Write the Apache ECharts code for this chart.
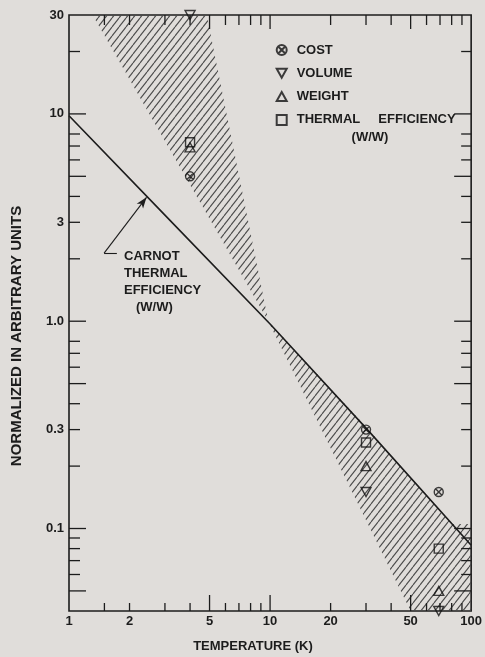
<!DOCTYPE html>
<html>
<head>
<meta charset="utf-8">
<title>Normalized cost, volume, weight and efficiency vs temperature</title>
<script src="https://cdn.jsdelivr.net/npm/echarts@6/dist/echarts.min.js"></script>
<style>
  html, body { margin: 0; padding: 0; background: #e0ddda; }
  #chart { width: 485px; height: 657px; }
</style>
</head>
<body>
<div id="chart"></div>
<script>
// Axis ranges (log-log)
const X_MIN = 1, X_MAX = 100;
const Y_MIN = 0.04, Y_MAX = 30;

// Tick labels
const xLabelValues = [1, 2, 5, 10, 20, 50, 100];
const yLabelValues = [0.1, 0.3, 1, 3, 10, 30];

// Tick marks
const xTickMajor = [5, 10, 50];
const xTickMinor = [1.5, 2, 3, 4, 6, 7, 8, 9, 20, 30, 40, 60, 70, 80, 90];
const yTickMajor = [0.05, 0.1, 0.5, 1, 5, 10];
const yTickMinor = [0.06, 0.07, 0.08, 0.09, 0.2, 0.3, 0.4, 0.6, 0.7, 0.8, 2, 3, 4, 6, 7, 8, 20];

// Carnot thermal efficiency (W/W), normalized
const carnotT = [1, 3, 10, 30, 100];
const carnotV = [9.8, 3.25, 0.97, 0.305, 0.083];

// Measured points
const costT = [4, 30, 69];
const costV = [5.0, 0.30, 0.15];
const volumeT = [4, 30, 69];
const volumeV = [30, 0.15, 0.04];
const weightT = [4, 30, 69];
const weightV = [6.9, 0.20, 0.05];
const thermalT = [4, 30, 69];
const thermalV = [7.3, 0.26, 0.08];

// Shaded scatter band (two wedges meeting on the Carnot curve)
const upperBandT = [1.31, 4.84, 9.8];
const upperBandV = [30, 30, 1.0];
const lowerBandT = [9.8, 30, 80, 100, 100, 50];
const lowerBandV = [1.0, 0.31, 0.105, 0.105, 0.04, 0.04];

// Carnot annotation leader
const leaderStart = [1.495, 2.13];
const leaderStub = [1.73, 2.13];
const leaderTip = [2.43, 3.96];

const INK = '#1c1c1c';
const FONT = '"Liberation Sans", Arial, Helvetica, sans-serif';

const zip = (a, b) => a.map((v, i) => [v, b[i]]);

// Diagonal hatch pattern
function makeHatch() {
  const w = 7, h = 9;
  const c = document.createElement('canvas');
  c.width = w; c.height = h;
  const g = c.getContext('2d');
  g.strokeStyle = '#4a4a4a';
  g.lineWidth = 1.1;
  for (let k = -1; k <= 1; k++) {
    g.beginPath();
    g.moveTo(k * w, h);
    g.lineTo(k * w + w, 0);
    g.stroke();
  }
  return c;
}
const hatchPattern = { image: makeHatch(), repeat: 'repeat' };

const bands = [zip(upperBandT, upperBandV), zip(lowerBandT, lowerBandV)];

const chart = echarts.init(document.getElementById('chart'), null, { renderer: 'canvas' });

const tickStyle = { stroke: INK, lineWidth: 1.3 };

const xTickData = xTickMajor.map(v => [v, Y_MIN, 1]).concat(xTickMinor.map(v => [v, Y_MIN, 0]));
const yTickData = yTickMajor.map(v => [X_MIN, v, 1]).concat(yTickMinor.map(v => [X_MIN, v, 0]));

const scatterBase = {
  type: 'scatter',
  clip: false,
  z: 5,
  itemStyle: { color: 'rgba(0,0,0,0)', borderColor: '#111', borderWidth: 1.4 },
  emphasis: { disabled: true }
};

const option = {
  backgroundColor: '#e0ddda',
  animation: false,
  textStyle: { fontFamily: FONT },
  grid: {
    left: 69, right: 4, top: 15, bottom: 46,
    show: true, borderColor: INK, borderWidth: 1.6, backgroundColor: 'transparent'
  },
  legend: {
    orient: 'vertical',
    left: 275.7, top: 43,
    padding: 0,
    itemWidth: 10, itemHeight: 10,
    itemGap: 9.3,
    selectedMode: false,
    textStyle: { fontSize: 13, fontWeight: 'bold', color: INK, fontFamily: FONT, lineHeight: 14, padding: [0, 0, 0, 5] },
    data: ['COST', 'VOLUME', 'WEIGHT', 'THERMAL     EFFICIENCY']
  },
  xAxis: {
    type: 'log', logBase: 10, min: X_MIN, max: X_MAX,
    axisLine: { show: false },
    axisTick: { show: false },
    splitLine: { show: false },
    axisLabel: {
      customValues: xLabelValues,
      margin: 4,
      fontSize: 13, fontWeight: 'bold', color: INK, fontFamily: FONT,
      formatter: v => String(v)
    }
  },
  yAxis: {
    type: 'log', logBase: 10, min: Y_MIN, max: Y_MAX,
    axisLine: { show: false },
    axisTick: { show: false },
    splitLine: { show: false },
    axisLabel: {
      customValues: yLabelValues,
      margin: 5,
      fontSize: 13, fontWeight: 'bold', color: INK, fontFamily: FONT,
      formatter: v => (Math.abs(v - 1) < 1e-9 ? '1.0' : String(+v.toPrecision(3)))
    }
  },
  graphic: [
    { type: 'text', x: 124, y: 256, style: { text: 'CARNOT', font: 'bold 13px ' + FONT, fill: INK, align: 'left', verticalAlign: 'middle' } },
    { type: 'text', x: 124, y: 273, style: { text: 'THERMAL', font: 'bold 13px ' + FONT, fill: INK, align: 'left', verticalAlign: 'middle' } },
    { type: 'text', x: 124, y: 290, style: { text: 'EFFICIENCY', font: 'bold 13px ' + FONT, fill: INK, align: 'left', verticalAlign: 'middle' } },
    { type: 'text', x: 136, y: 307, style: { text: '(W/W)', font: 'bold 13px ' + FONT, fill: INK, align: 'left', verticalAlign: 'middle' } },
    { type: 'text', x: 370, y: 137, style: { text: '(W/W)', font: 'bold 13px ' + FONT, fill: INK, align: 'center', verticalAlign: 'middle' } },
    { type: 'text', x: 253, y: 646, style: { text: 'TEMPERATURE (K)', font: 'bold 13px ' + FONT, fill: INK, align: 'center', verticalAlign: 'middle' } },
    { type: 'text', x: 17, y: 336, rotation: Math.PI / 2, style: { text: 'NORMALIZED IN ARBITRARY UNITS', font: 'bold 15px ' + FONT, fill: INK, align: 'center', verticalAlign: 'middle' } }
  ],
  series: [
    {
      name: 'band',
      type: 'custom',
      z: 1,
      silent: true,
      clip: false,
      data: bands.map((b, i) => [b[0][0], b[0][1], i]),
      encode: { x: 0, y: 1 },
      renderItem: (params, api) => {
        const pts = bands[api.value(2)].map(p => api.coord(p));
        return { type: 'polygon', shape: { points: pts }, style: { fill: hatchPattern, stroke: null } };
      }
    },
    {
      name: 'xTicks',
      type: 'custom',
      z: 3,
      silent: true,
      clip: false,
      data: xTickData,
      encode: { x: 0, y: 1 },
      renderItem: (params, api) => {
        const t = api.value(0);
        const major = api.value(2) === 1;
        const b = api.coord([t, Y_MIN]);
        const top = api.coord([t, Y_MAX]);
        const lb = major ? 16 : 8;
        const lt = major ? 14 : 10;
        return {
          type: 'group',
          children: [
            { type: 'line', shape: { x1: b[0], y1: b[1], x2: b[0], y2: b[1] - lb }, style: tickStyle },
            { type: 'line', shape: { x1: top[0], y1: top[1], x2: top[0], y2: top[1] + lt }, style: tickStyle }
          ]
        };
      }
    },
    {
      name: 'yTicks',
      type: 'custom',
      z: 3,
      silent: true,
      clip: false,
      data: yTickData,
      encode: { x: 0, y: 1 },
      renderItem: (params, api) => {
        const v = api.value(1);
        const major = api.value(2) === 1;
        const l = api.coord([X_MIN, v]);
        const r = api.coord([X_MAX, v]);
        const len = major ? 17 : 11;
        const lenR = major ? 17 : 10;
        return {
          type: 'group',
          children: [
            { type: 'line', shape: { x1: l[0], y1: l[1], x2: l[0] + len, y2: l[1] }, style: tickStyle },
            { type: 'line', shape: { x1: r[0], y1: r[1], x2: r[0] - lenR, y2: r[1] }, style: tickStyle }
          ]
        };
      }
    },
    {
      name: 'CARNOT THERMAL EFFICIENCY (W/W)',
      type: 'line',
      z: 4,
      symbol: 'none',
      clip: true,
      lineStyle: { color: INK, width: 1.6 },
      data: zip(carnotT, carnotV),
      silent: true,
      markLine: {
        silent: true,
        symbol: ['none', 'none'],
        label: { show: false },
        lineStyle: { color: INK, width: 1.1, type: 'solid' },
        data: [
          [{ coord: leaderStart }, { coord: leaderTip, symbol: 'arrow', symbolSize: [6, 11] }],
          [{ coord: leaderStart }, { coord: leaderStub }]
        ]
      }
    },
    Object.assign({}, scatterBase, {
      name: 'COST',
      symbol: 'path://M10 0A10 10 0 1 1 -10 0A10 10 0 1 1 10 0ZM-7.07 -7.07L7.07 7.07M-7.07 7.07L7.07 -7.07',
      symbolSize: 9,
      data: zip(costT, costV)
    }),
    Object.assign({}, scatterBase, {
      name: 'VOLUME',
      symbol: 'path://M0 0L10 0L5 9Z',
      symbolSize: [10, 9],
      data: zip(volumeT, volumeV)
    }),
    Object.assign({}, scatterBase, {
      name: 'WEIGHT',
      symbol: 'path://M5 0L10 9L0 9Z',
      symbolSize: [10, 9],
      data: zip(weightT, weightV)
    }),
    Object.assign({}, scatterBase, {
      name: 'THERMAL     EFFICIENCY',
      symbol: 'rect',
      symbolSize: 9,
      data: zip(thermalT, thermalV)
    })
  ]
};

chart.setOption(option);
</script>
</body>
</html>
